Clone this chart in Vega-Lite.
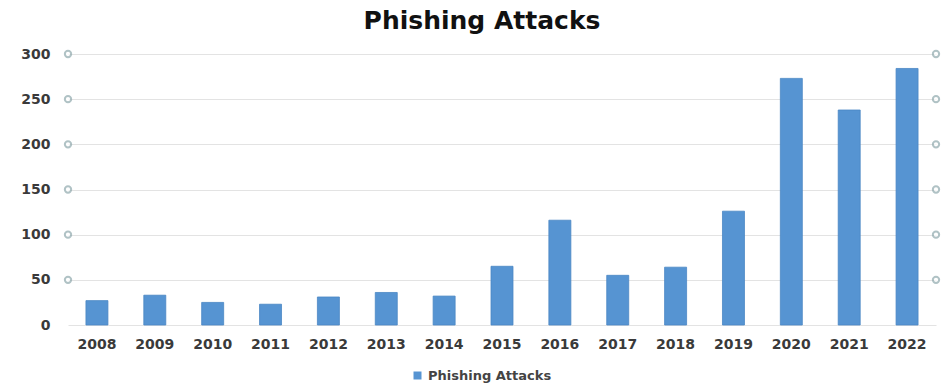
{
  "$schema": "https://vega.github.io/schema/vega-lite/v6.json",
  "width": 868,
  "height": 271,
  "autosize": "none",
  "padding": {"left": 68, "top": 54, "right": 9, "bottom": 60},
  "title": {
    "text": "Phishing Attacks",
    "font": "DejaVu Sans",
    "fontSize": 25,
    "fontWeight": "bold",
    "color": "#111111",
    "dx": -20,
    "offset": 13
  },
  "config": {
    "view": {"stroke": null},
    "font": "DejaVu Sans",
    "background": "#ffffff"
  },
  "datasets": {
    "attacks": [
      {"year": "2008", "attacks": 27},
      {"year": "2009", "attacks": 33},
      {"year": "2010", "attacks": 25},
      {"year": "2011", "attacks": 23},
      {"year": "2012", "attacks": 31},
      {"year": "2013", "attacks": 36},
      {"year": "2014", "attacks": 32},
      {"year": "2015", "attacks": 65},
      {"year": "2016", "attacks": 116},
      {"year": "2017", "attacks": 55},
      {"year": "2018", "attacks": 64},
      {"year": "2019", "attacks": 126},
      {"year": "2020", "attacks": 273},
      {"year": "2021", "attacks": 238},
      {"year": "2022", "attacks": 284}
    ],
    "markers": [
      {"v": 50, "side": 0}, {"v": 100, "side": 0}, {"v": 150, "side": 0},
      {"v": 200, "side": 0}, {"v": 250, "side": 0}, {"v": 300, "side": 0},
      {"v": 50, "side": 1}, {"v": 100, "side": 1}, {"v": 150, "side": 1},
      {"v": 200, "side": 1}, {"v": 250, "side": 1}, {"v": 300, "side": 1}
    ]
  },
  "layer": [
    {
      "data": {"name": "attacks"},
      "mark": {"type": "bar", "stroke": "#4a86c4", "strokeWidth": 0.8},
      "encoding": {
        "x": {
          "field": "year",
          "type": "ordinal",
          "scale": {"paddingInner": 0.62, "paddingOuter": 0.31},
          "axis": {
            "title": null,
            "labelAngle": 0,
            "domain": false,
            "ticks": false,
            "labelPadding": 12,
            "labelFontSize": 14,
            "labelFontWeight": "bold",
            "labelColor": "#3a3a3a",
            "labelFont": "DejaVu Sans"
          }
        },
        "y": {
          "field": "attacks",
          "type": "quantitative",
          "scale": {"domain": [0, 300], "nice": false},
          "axis": {
            "title": null,
            "values": [0, 50, 100, 150, 200, 250, 300],
            "domain": false,
            "ticks": false,
            "labelPadding": 18,
            "labelFontSize": 14,
            "labelFontWeight": "bold",
            "labelColor": "#3a3a3a",
            "labelFont": "DejaVu Sans",
            "grid": true,
            "gridColor": "#e3e3e3",
            "gridWidth": 1
          }
        },
        "color": {
          "datum": "Phishing Attacks",
          "type": "nominal",
          "scale": {"range": ["#5694d2"]},
          "legend": {
            "title": null,
            "orient": "none",
            "legendX": 343,
            "legendY": 315,
            "direction": "horizontal",
            "symbolType": "square",
            "symbolSize": 64,
            "symbolStrokeWidth": 0,
            "labelFontSize": 13,
            "labelFontWeight": "bold",
            "labelColor": "#444444",
            "labelFont": "DejaVu Sans"
          }
        }
      }
    },
    {
      "data": {"name": "markers"},
      "mark": {
        "type": "point",
        "shape": "circle",
        "filled": true,
        "fill": "#ffffff",
        "stroke": "#8fa9ad",
        "strokeWidth": 2,
        "size": 40
      },
      "encoding": {
        "x": {
          "field": "side",
          "type": "quantitative",
          "scale": {"domain": [0, 1], "nice": false},
          "axis": null
        },
        "y": {"field": "v", "type": "quantitative"}
      }
    }
  ],
  "resolve": {"scale": {"x": "independent"}}
}
